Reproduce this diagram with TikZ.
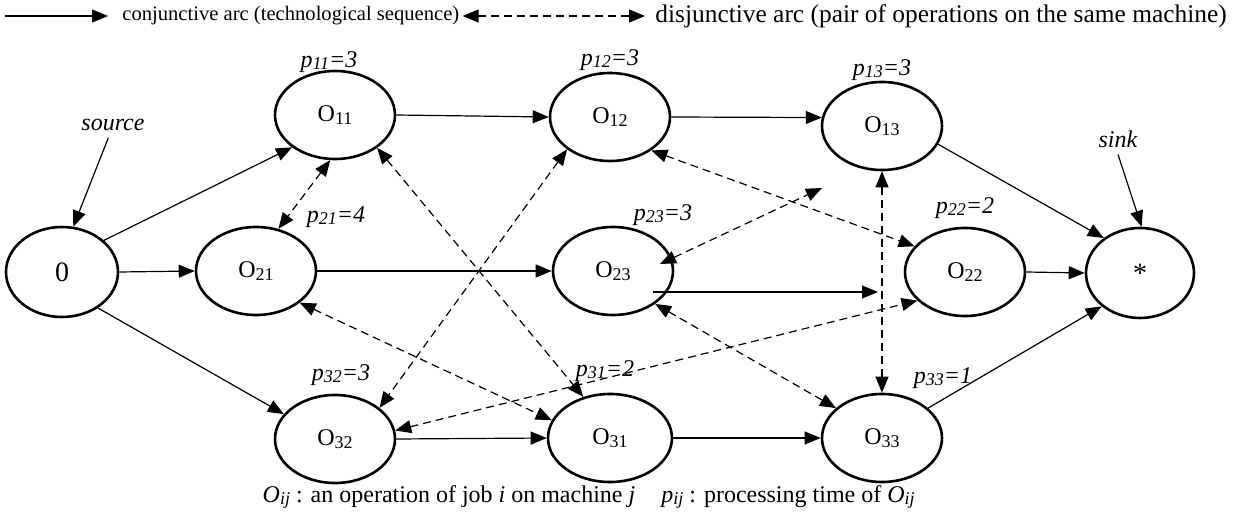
\documentclass[tikz,border=0pt]{standalone}
\usepackage{fontspec}
\setmainfont{Liberation Serif}
\usetikzlibrary{arrows.meta,shapes.geometric}
\newcommand{\lowsub}[1]{{\fontsize{9}{9}\selectfont\raisebox{-0.3ex}{#1}}}
\newcommand{\opn}[1]{O\lowsub{#1}}
\newcommand{\ptime}[2]{\textit{p\lowsub{#1}=#2}}

\begin{document}
\begin{tikzpicture}[x=0.5pt,y=-0.5pt,>={Triangle[length=8pt,width=6.5pt]},font=\fontsize{12}{14}\selectfont,
  opnode/.style={draw,ellipse,line width=1.3pt,minimum width=60pt,minimum height=44pt,inner sep=0pt},
  conj/.style={->,line width=0.6pt},
  disj/.style={<->,line width=0.6pt,dash pattern=on 4pt off 2.5pt},
  legend/.style={anchor=west,inner sep=0pt}]
\useasboundingbox (0,0) rectangle (1233,513);
\node[opnode,minimum width=56pt,minimum height=45pt,font=\fontsize{14}{16}\selectfont] (N0) at (62,272) {0};
\node[opnode] (O11) at (335,115) {\opn{11}};
\node[opnode] (O12) at (610,117) {\opn{12}};
\node[opnode] (O13) at (882,126) {\opn{13}};
\node[opnode] (O21) at (256,271) {\opn{21}};
\node[opnode] (O23) at (613,271) {\opn{23}};
\node[opnode] (O22) at (965,272) {\opn{22}};
\node[opnode] (O32) at (335,439) {\opn{32}};
\node[opnode,minimum width=62pt] (O31) at (610,438) {\opn{31}};
\node[opnode] (O33) at (882,438) {\opn{33}};
\node[opnode,minimum width=54pt,minimum height=45pt,font=\fontsize{14}{16}\selectfont] (S) at (1140,273) {*};
\node (p11) at (329,62) {\ptime{11}{3}};
\node (p12) at (610,60) {\ptime{12}{3}};
\node (p13) at (882,70) {\ptime{13}{3}};
\node (p21) at (336,217) {\ptime{21}{4}};
\node (p23) at (663,215) {\ptime{23}{3}};
\node (p22) at (965,208) {\ptime{22}{2}};
\node (p32) at (341,375) {\ptime{32}{3}};
\node (p31) at (605,371) {\ptime{31}{2}};
\node (p33) at (943,378) {\ptime{33}{1}};
\node (source) at (113,125) {\textit{source}};
\node (sink) at (1118,139) {\textit{sink}};
\node (capO) at (449,497) {\textit{O\lowsub{ij}} : an operation of job \textit{i} on machine \textit{j}};
\node (capP) at (788,497) {\textit{p\lowsub{ij}} : processing time of \textit{O\lowsub{ij}}};
\coordinate (lgA) at (5,16);
\node[legend,font=\fontsize{10.3}{12}\selectfont] (conjtxt) at (122,16) {conjunctive arc (technological sequence)};
\node[legend,font=\fontsize{12.7}{15}\selectfont] (disjtxt) at (655,16) {disjunctive arc (pair of operations on the same machine)};
\coordinate (m3end) at (878,292);
\coordinate (m1end) at (822,188);
\draw[conj,shorten >=7pt] (lgA) -- (conjtxt.west);
\draw[disj,shorten <=1.5pt,shorten >=5pt] (conjtxt.east) -- (disjtxt.west);
\draw[conj] (source.250) -- (N0.76);
\draw[conj] (sink.south) -- (S.88);
\draw[conj] (N0.37) -- (O11.217);
\draw[conj] (N0.east) -- (O21.west);
\draw[conj] (N0.-45) -- (O32.154);
\draw[conj] (O11.east) -- (O12.180);
\draw[conj] (O12.east) -- (O13.172);
\draw[conj] (O13.-18) -- (S.136);
\draw[conj] (O21.east) -- (O23.west);
\draw[conj] ([shift={(40,21)}]O23.center) -- (m3end);
\draw[conj] (O22.east) -- (S.west);
\draw[conj] (O32.east) -- (O31.west);
\draw[conj] (O31.east) -- (O33.west);
\draw[conj] (O33.33) -- (S.221);
\draw[disj] (O11.264) -- (O21.62);
\draw[disj] (O11.-38) -- (O31.123);
\draw[disj] (O12.217) -- (O32.35);
\draw[disj] (O12.-39) -- (O22.153);
\draw[disj] ([shift={(47,-7)}]O23.center) -- (m1end);
\draw[disj] (O13.south) -- (O33.north);
\draw[disj] (O23.-38) -- (O33.147);
\draw[disj] (O21.-36) -- (O31.163);
\draw[disj] (O32.8) -- (O22.211);
\end{tikzpicture}
\end{document}
